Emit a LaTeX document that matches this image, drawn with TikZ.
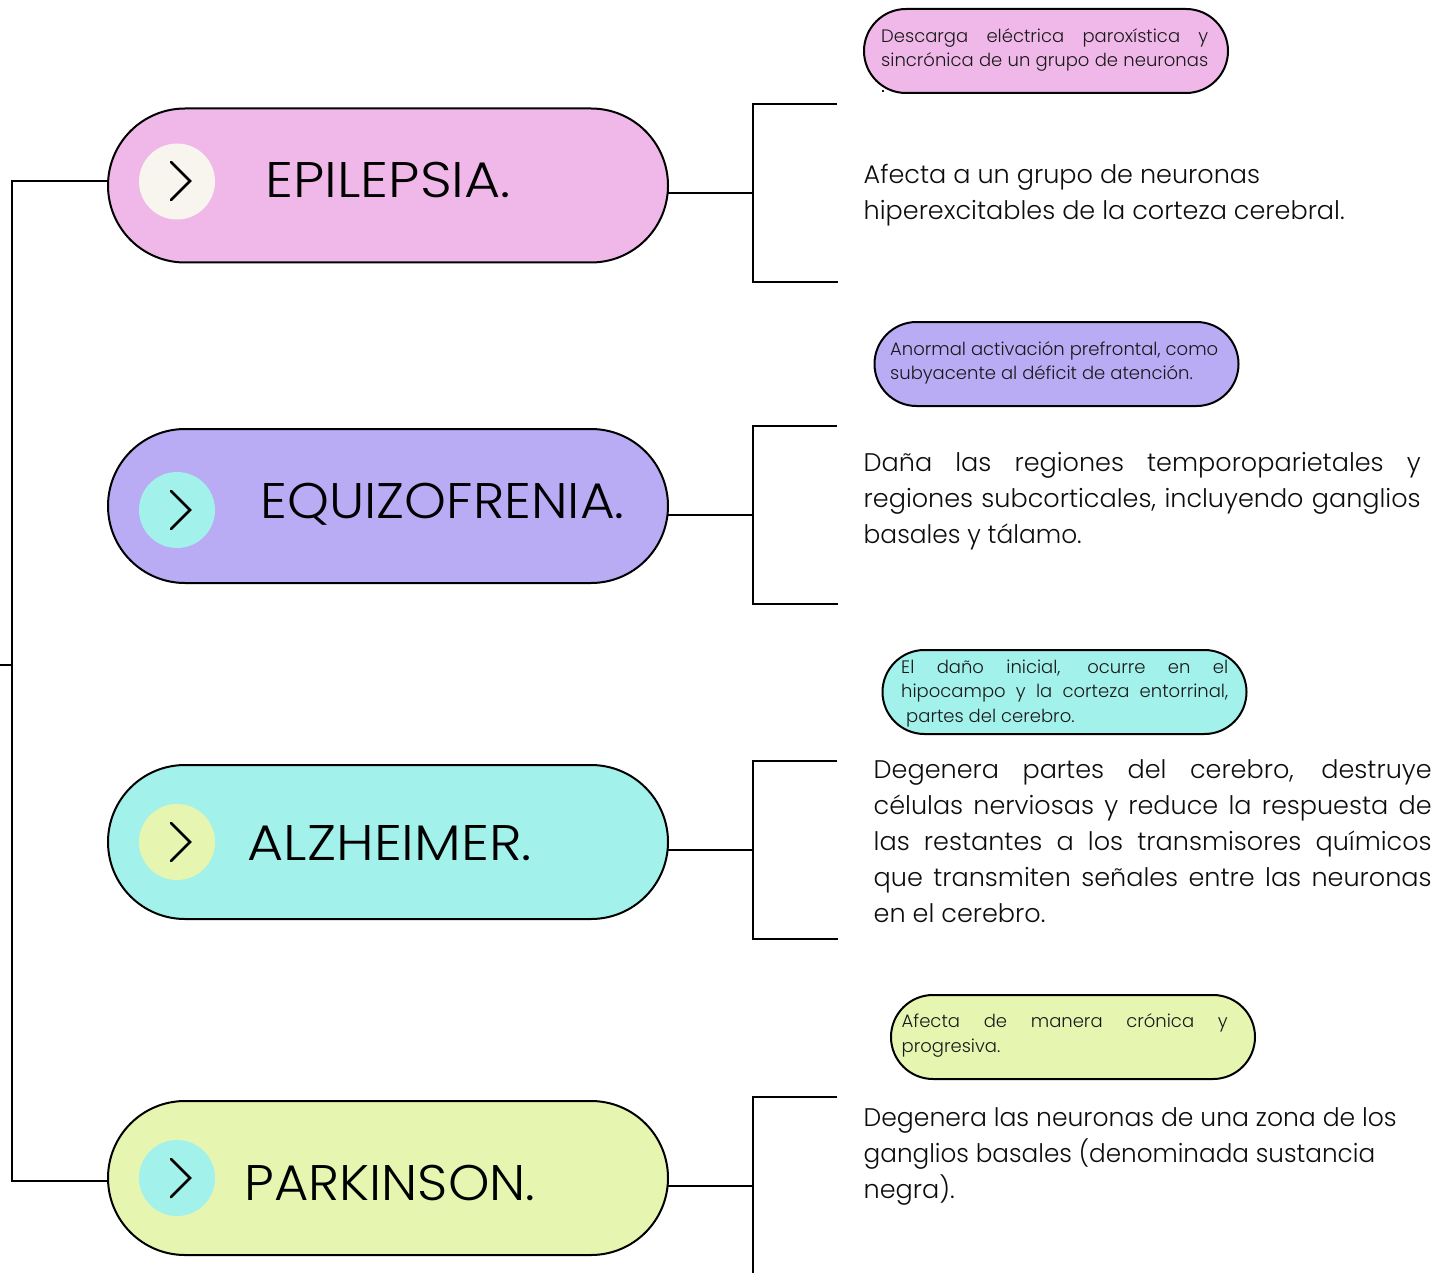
\documentclass[tikz,border=0pt]{standalone}
\usepackage{fontspec}
\setmainfont{Poppins Light}
\newfontfamily\titlefont{Poppins Light}[FakeStretch=1.11]
\usetikzlibrary{shapes.misc}
\definecolor{cpink}{HTML}{F0B8E8}
\definecolor{cpurple}{HTML}{B9ABF4}
\definecolor{ccyan}{HTML}{A3F1EB}
\definecolor{clime}{HTML}{E6F6B1}
\definecolor{cbeige}{HTML}{F8F4EE}
\newcommand{\jl}[2]{\makebox[#1pt][s]{#2}}
\newcommand{\sx}[2]{\scalebox{#1}[1]{#2}}
\tikzset{
 x=1pt,y=-1pt,
 mainpill/.style={rounded rectangle,draw=black,line width=2pt,minimum width=560pt,minimum height=154pt,inner sep=0pt,outer sep=0pt},
 notepill/.style={rounded rectangle,draw=black,line width=2pt,minimum width=364pt,minimum height=84pt,inner sep=0pt,outer sep=0pt},
 dotc/.style={circle,minimum size=76pt,inner sep=0pt,outer sep=0pt},
 title/.style={inner sep=0pt,anchor=base west,font=\titlefont\fontsize{50}{50}\selectfont},
 notetext/.style={inner sep=0pt,anchor=north west,align=left,font=\fontsize{18}{24.5}\selectfont,text=black!90},
 bodytext/.style={inner sep=0pt,anchor=north west,align=left,font=\fontsize{25.5}{36}\selectfont,text=black!95},
 line/.style={draw=black,line width=2pt},
 chev/.style={draw=black,line width=2.8pt,line cap=round,line join=miter},
}
\begin{document}
\begin{tikzpicture}
\useasboundingbox (0,0) rectangle (1456,1273);
\coordinate (tl) at (11.5,181); \coordinate (bl) at (11.5,1181); \coordinate (st) at (0,665); \coordinate (sj) at (11.5,665);
\node[mainpill,fill=cpink] (m1) at (388,185.5) {};
\node[mainpill,fill=cpurple] (m2) at (388,506) {};
\node[mainpill,fill=ccyan] (m3) at (388,842) {};
\node[mainpill,fill=clime] (m4) at (388,1178) {};
\coordinate (m1l) at (108,181); \coordinate (m4l) at (108,1181);
\draw[line] (m1l) -- (tl) -- (bl) -- (m4l);
\draw[line] (st) -- (sj);
\node[dotc,fill=cbeige] (c1) at (177,181.5) {};
\node[dotc,fill=ccyan] (c2) at (177,510) {};
\node[dotc,fill=clime] (c3) at (177,842) {};
\node[dotc,fill=ccyan] (c4) at (177,1178) {};
\draw[chev] (171,162) -- (190,181) -- (171,200);
\draw[chev] (171,491) -- (190,510) -- (171,529);
\draw[chev] (171,823) -- (190,842) -- (171,861);
\draw[chev] (171,1159) -- (190,1178) -- (171,1197);
\node[title] (t1) at (265.5,198) {EPILEPSIA.};
\node[title] (t2) at (260.5,518) {\sx{0.96}{EQUIZOFRENIA.}};
\node[title] (t3) at (247.5,860) {ALZHEIMER.};
\node[title] (t4) at (244.5,1200) {\sx{0.95}{PARKINSON.}};
\foreach \n/\t/\s/\b in {1/104/193/282,2/426/515/604,3/761/850/939}{
 \coordinate (bt\n) at (837,\t); \coordinate (bb\n) at (838,\b); \coordinate (bj\n) at (753,\s);
 \draw[line] (bt\n) -- (753,\t) -- (753,\b) -- (bb\n);
 \draw[line] (m\n.east |- bj\n) -- (bj\n);
}
\coordinate (bt4) at (837,1097); \coordinate (bb4) at (753,1273); \coordinate (bj4) at (753,1186);
\draw[line] (bt4) -- (753,1097) -- (bb4);
\draw[line] (m4.east |- bj4) -- (bj4);
\node[notepill,fill=cpink] (n1) at (1046,51) {};
\node[notepill,fill=cpurple] (n2) at (1056.5,364) {};
\node[notepill,fill=ccyan] (n3) at (1064.5,692) {};
\node[notepill,fill=clime] (n4) at (1073,1037) {};
\node[notetext] (nt1) at (881,28) {\jl{327}{Descarga eléctrica paroxística y}\\\jl{327}{sincrónica de un grupo de neuronas}};
\node[notetext,anchor=center] (nd1) at (883,91) {\rule{1.5pt}{1.5pt}};
\node[notetext] (nt2) at (890,341) {Anormal activación prefrontal, como\\subyacente al déficit de atención.};
\node[notetext] (nt3) at (901,659.5) {\jl{327}{El daño inicial, ocurre en el}\\\jl{327}{hipocampo y la corteza entorrinal,}\\\hspace*{5pt}partes del cerebro.};
\node[notetext] (nt4) at (901.5,1013.5) {\jl{326}{Afecta de manera crónica y}\\progresiva.};
\node[bodytext] (b1) at (863.5,164) {Afecta a un grupo de neuronas\\hiperexcitables de la corteza cerebral.};
\node[bodytext] (b2) at (863.5,452) {\jl{557}{Daña las regiones temporoparietales y}\\\jl{557}{regiones subcorticales, incluyendo ganglios}\\\sx{0.975}{basales y tálamo.}};
\node[bodytext] (b3) at (873.5,759) {\jl{558}{Degenera partes del cerebro, destruye}\\\jl{558}{células nerviosas y reduce la respuesta de}\\\jl{558}{las restantes a los transmisores químicos}\\\jl{558}{que transmiten señales entre las neuronas}\\en el cerebro.};
\node[bodytext] (b4) at (863.5,1107) {\sx{0.983}{Degenera las neuronas de una zona de los}\\\sx{0.968}{ganglios basales (denominada sustancia}\\negra).};
\end{tikzpicture}
\end{document}
